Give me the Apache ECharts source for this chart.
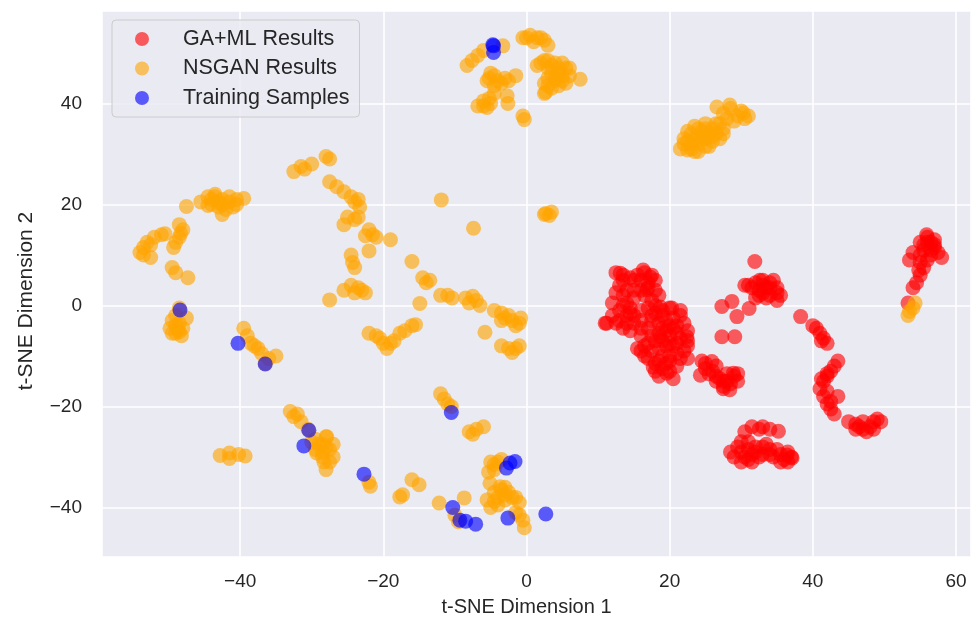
<!DOCTYPE html>
<html>
<head>
<meta charset="utf-8">
<script src="https://cdn.jsdelivr.net/npm/echarts@6/dist/echarts.min.js"></script>
<style>
  html, body { margin: 0; padding: 0; background: #ffffff; }
  #chart { width: 971px; height: 623px; }
</style>
</head>
<body>
<div id="chart"></div>
<script>
// t-SNE embedding of the three point sets
const seriesNames = ['GA+ML Results', 'NSGAN Results', 'Training Samples'];

const gaMlResults = [
  // large two-lobed cluster around (17, -3)
  [12.5,6.5],[13.5,6],[14.5,5.5],[15.5,6],[16.5,6.5],[17.5,6],[18,5],[13,4],[12.5,2.5],[13.5,2],
  [14,0.5],[15,1.5],[16,3],[17,3.5],[18,3],[18.5,2],[13,-1],[14,-2],[15,-2],[12.5,-3.5],
  [11,-3.5],[13.5,-4.5],[14.5,-5],[15,-3.5],[13.1,6.4],[16.3,7],[17.3,5.6],[16.8,3.1],[14.5,-1.5],[11.2,-3.5],
  [17,-0.5],[18,0],[19,-1],[20,-0.5],[17.5,-2],[18.5,-3.5],[19.5,-3],[20.5,-2.5],[21,-4],[22,-3.5],
  [22.5,-5],[21.5,-6.5],[20,-6],[18.5,-5.5],[17,-4.5],[16,-6],[16.5,-8],[17.5,-9],[18.5,-8.5],[19.5,-8],
  [20.5,-8],[21,-9.5],[22,-9],[22.5,-10.5],[20,-11],[18,-11.5],[17,-10.5],[19,-12.5],[20,-13],[21,-12],
  [16.5,-10],[15.5,-8.5],[19.5,-5],[20.5,-4.5],[18.7,-0.3],[20.3,-0.5],[22.4,-6.2],[18.7,-6.2],[17.7,-12.2],[19.6,-13.4],
  [18.5,-14],[20.5,-14.5],
  [13.5,5],[15,5],[16,5],[17,4.5],[14,3],[15,3],[16.5,2],[17.5,1],[13.5,0],[14.5,-0.5],
  [12,0.5],[12,-2],[13,-3],[14,-3.5],[16,-1],[16,-3],[16,-4.5],[17.5,-6],[18,-7],[19,-7],
  [20,-7.5],[21,-7.5],[19,-10],[20,-10],[21.5,-10.5],[18.5,-11],[18,-13],[19.5,-11.5],[21.5,-2],[21.5,-1],
  [19,-2],[18,-1.5],[17.5,-3],[20,-4],[19,-4.5],[21,-5.5],[22.5,-7],[22.5,-8],[17,-7.5],[16,-9],
  // chain around x=25..29, y=-11..-17
  [24.5,-11],[25,-12.5],[26,-13],[27,-14.5],[28,-15],[29,-14],[27.5,-16],[26.5,-12],[24.3,-13.8],[25.9,-11.1],
  [28.9,-13.4],[26.5,-15],[27.5,-16.5],[29.5,-13.5],[28.4,-16.7],
  [25.5,-13.5],[26.5,-14],[27.5,-15],[28.5,-15.5],[25,-11.5],[29.5,-15],[28,-13.5],
  // group around (33, 3)
  [31.9,8.7],[31,4],[32,4.5],[33,4],[34,4.5],[35,3.5],[35.5,2],[34,2],[33,2.5],[32.5,3],
  [30.5,4],[32,1.5],[35,1],[33.5,3.5],[32.6,5],[34.5,5],
  [31.5,3.5],[33,5],[34,3.5],[35,2.5],[33.5,1.5],[32.5,2],
  [27.3,-0.2],[28.7,0.8],[31.1,-0.6],[29.4,-2.2],[27.3,-6.2],[29.1,-6.2],[38.3,-2.2],
  [40.5,-4.5],[41,-5.5],[41.5,-6.5],[42,-7.5],[40,-4],[41.2,-7],
  [43.5,-11],[43,-12],[42.5,-13],[42,-14],
  // far right column
  [55,12.5],[56,13.5],[57,13],[55.5,11],[56.5,11],[57.5,10.5],[58,9.5],[54,10.5],[53.5,9],[56,9],
  [55.5,7.5],[55,6],[54.5,4.5],[54,3.5],[57,12],[55,10],[56.5,12.5],[55.9,14],[53.3,0.5],
  [55.5,12],[56.5,10],[55,8.5],[54.8,7],[56,12.5],[57,11.5],
  // arc down to the right
  [42,-13.5],[41.5,-15],[41,-16.5],[41.5,-18],[42,-19.5],[42.5,-20.5],[43,-21.5],[43.5,-18],
  [41.2,-14.5],[42,-17],[42.5,-19],
  [45,-23],[46,-23.5],[47,-24.5],[48,-24],[48.5,-23],[49,-22.5],[49.5,-23],[47.5,-25],[46.5,-24],
  [46,-24.5],[47,-23],[48.5,-24.5],
  // bottom group
  [30.5,-25],[31.5,-24],[32.5,-24.5],[35.2,-24.9],[29.5,-28],[30,-29],[30.5,-30],[31,-28.5],[32,-29],[33,-28],
  [34,-28.5],[35,-28.5],[35.5,-29.5],[36,-30.5],[37,-30],[36.5,-29],[29,-30],[31.5,-31],[33.5,-27.5],[28.5,-29],
  [31.5,-29.5],[36.4,-29.6],[37.1,-30.2],
  [30,-27],[31,-27],[32,-28],[32.5,-30],[33,-29.5],[34,-29.5],[34.5,-30],[35.5,-31],[36.5,-31],[30,-31],
  [31,-30.5],[33,-24],[34,-24.5]
];

const nsganResults = [
  // top cluster
  [-0.5,53],[0.5,53.5],[1.5,53],[2.5,52.5],[3,51.5],[1,52.2],[0,53],[2,53],[-3.3,51.4],
  [-8.3,47.5],[-7.6,48.5],[-6.8,49.5],[-6,50.5],
  [-5.5,44.5],[-5,46],[-4.5,43.5],[-3.5,44],[-2.5,44.5],[-1.5,45.5],[-5.2,45],[-4,44.5],[-3,45],[-4.5,45.5],
  [-6.8,39.5],[-6,40.5],[-5.2,41],[-4.5,42],[-5.5,39.2],[-6,39.5],[-5,40],[-2.7,41.5],[-2.6,40],[-0.5,37.5],[-0.3,36.8],
  [1.5,47.5],[2.5,48.5],[3,47],[4,48],[5,48],[5.5,47],[3.5,46],[4.5,46],[5,45.5],
  [4,44.5],[5.5,44],[6,45.5],[3.5,43],[2.5,42],[7.5,44.8],[2.7,42.2],
  [2,48],[3,48.5],[4.5,47],[3.5,47.5],[4,45],[5,44.5],[3,45],[2.5,44],[3,43.5],[4.5,43.5],[6,47],
  // upper right cluster
  [21.5,31],[22.5,30.8],[22,33],[23,34],[24,32],[24.5,34.5],[25,33],[26,35],[25.5,31.5],[27,33],
  [27.5,35],[28,37],[28.5,39],[29.5,37.5],[30.5,37],[31,37.5],[30,38.5],[22.5,34.5],[23.5,35.5],[26.5,34],
  [23,32],[24,30.5],[25,36],[27,36],[26,32.5],[29,36.5],[26.6,39.3],[28.4,39.7],[30.3,38.1],[27.5,38],
  [22,32],[23,31],[23.5,33],[24.5,33],[25.5,34],[26,33.5],[24,35],[25,35],[26.5,36],[24,33.5],
  [22.5,32.5],[23.5,30.5],[25,31.5],[27.5,34],
  // left side
  [-45.5,20.5],[-44.5,21.5],[-43.5,21.5],[-42.5,21],[-41.5,20.5],[-40.5,21],[-43,19.5],[-42,19],[-44,20],[-41,19.5],
  [-39.5,21.2],[-42.5,18],[-47.5,19.6],[-43.5,22],[-44.5,19.8],
  [-44,21],[-42.5,20],[-41.5,21.5],[-43,20.5],[-40.5,20],
  [-54,10.5],[-53.5,11.5],[-53,12.5],[-52,13.5],[-51,14],[-50.5,14.2],[-53.5,10],[-52.5,9.5],[-52.5,12],
  [-48.5,16],[-48,15],[-48.5,13.5],[-49,12.5],[-49.3,11.5],[-48.3,14.3],
  [-49.5,7.5],[-49,6.5],[-47.3,5.5],
  [-48.5,-0.5],[-49.5,-3],[-48.5,-3.5],[-49.8,-4.5],[-48,-4.5],[-49,-5.5],[-48.2,-6],[-47.5,-2.5],[-49,-2],[-48.7,-4.8],
  [-49,-4],[-48.5,-5.2],[-49.5,-5.5],
  [-39.5,-4.5],[-39,-6],[-38.5,-7.5],[-37.5,-8.5],[-37,-9.5],[-36,-10.5],[-35,-10],[-36.5,-11.5],[-38,-8],
  // arc in the upper middle
  [-32.5,26.5],[-31.5,27.5],[-31,27],[-30,28],[-28,29.5],[-27.5,29],[-27.5,24.5],[-26.5,23.5],[-25.5,22.5],[-24.5,21.5],
  [-23.5,21],[-24,20.5],[-23.3,19.5],[-25,17.5],[-24,17],[-25.5,16],[-23.5,17.5],
  [-22,15],[-21.5,14],[-21,13.5],[-22.5,13.8],[-19,13],[-22,10.8],
  [-24.5,10],[-24.3,8.5],[-24,7.5],
  [-25.5,3],[-24.5,4],[-23.5,3.5],[-23,3],[-24,2.5],[-22.5,2.5],[-27.5,1.1],
  // centre
  [-11.9,20.9],[-7.4,15.3],[2.7,18.2],[3.5,18.5],[3.2,17.8],[2.5,18],
  [-16,8.7],[-14.5,5.5],[-14,4.5],[-13.5,5],[-14.9,0.4],
  [-12,2],[-11,2],[-10.4,1.5],[-8.5,1.5],[-7.5,1.8],[-7,1],[-6.5,0],[-8,0.5],
  [-4.5,-1],[-3.5,-1.5],[-3,-2.5],[-2,-3],[-1,-3.5],[-0.8,-2.5],[-1.5,-4],[-3.5,-3],[-2.5,-2],
  [-5.8,-5.3],[-3.5,-8],[-2.5,-8.5],[-1.5,-8.5],[-1,-8],[-2,-9.3],
  [-22,-5.5],[-21,-6],[-20,-7.5],[-19.5,-8.5],[-19,-7.5],[-18.5,-7],[-17.7,-5.5],[-17,-5],[-16,-4],[-15.5,-3.8],[-20.5,-6.5],
  // lower left
  [-42.8,-29.7],[-41.5,-29.2],[-40.2,-29.5],[-39.3,-29.8],[-41.5,-30.3],
  [-33,-21],[-32.5,-22],[-31.5,-23],[-30.5,-24.5],[-29.5,-26.5],[-28.5,-27.5],[-28,-26],[-27.5,-28.5],[-27,-30],[-27.5,-31],
  [-28.5,-30],[-29.5,-28.5],[-28,-32.5],[-27,-27.5],[-30,-27],[-32,-21.5],[-27.9,-26],[-29.3,-29.2],
  [-29,-27.5],[-28.5,-29],[-28,-28],[-28.3,-31],
  [-22,-35],[-21.8,-35.8],
  [-17.7,-37.9],[-16,-34.5],[-15,-35.5],[-12.2,-39.1],[-8.7,-38.1],[-10,-41.5],[-9.5,-42.8],[-17.3,-37.5],
  // lower middle
  [-12,-17.5],[-11.5,-18.5],[-11,-19.5],[-10.5,-20],
  [-8,-25],[-7,-24.5],[-6,-24],[-7.5,-25.5],
  [-5,-31],[-4,-31],[-3.5,-30.5],[-4.5,-32.5],[-5.3,-33],[-4.5,-31.5],
  [-5.1,-35.2],[-3.7,-35.9],[-5.5,-38.5],[-4.5,-37],[-3.5,-36.5],[-2.5,-37],[-1.5,-38],[-1,-39],[-4,-39.5],[-5,-40],[-3,-36],
  [-4,-38],[-3,-38.5],[-2,-38],[-4.5,-38.8],[-3,-37.5],
  [-1,-41.5],[-0.5,-42.5],[-0.3,-44],[-1.5,-41],
  // next to the right column
  [53.3,-2],[54,-0.5],[54.3,0.5],[53.5,-1.2]
];

const trainingSamples = [
  [-4.7,51.6],[-4.6,51.4],[-4.6,50.1],[-48.4,-0.9],[-40.3,-7.5],[-36.5,-11.6],
  [-30.4,-24.7],[-31.1,-27.8],[-22.7,-33.4],[-10.5,-21.2],
  [-1.6,-30.9],[-2.3,-31.2],[-2.8,-32.2],[-2.6,-42.1],[2.7,-41.3],
  [-10.3,-40],[-9.3,-42.5],[-8.5,-42.7],[-7.1,-43.3]
];

const seriesColors = ['#ff0000', '#ffa500', '#0000ff'];
const xAxisTitle = 't-SNE Dimension 1';
const yAxisTitle = 't-SNE Dimension 2';

const textColor = '#262626';
const fontFamily = '"Liberation Sans", Arial, Helvetica, sans-serif';
const minusFmt = v => String(v).replace('-', '\u2212');

const chart = echarts.init(document.getElementById('chart'), null, { renderer: 'canvas' });

const pointSets = [gaMlResults, nsganResults, trainingSamples];

chart.setOption({
  animation: false,
  backgroundColor: '#ffffff',
  textStyle: { fontFamily: fontFamily, color: textColor },
  grid: {
    left: 102, top: 11, right: 0, bottom: 66,
    show: true, backgroundColor: '#eaeaf2', borderWidth: 0
  },
  xAxis: {
    type: 'value',
    min: -59.3, max: 62.1, splitNumber: 6,
    name: xAxisTitle, nameLocation: 'middle', nameGap: 40,
    nameTextStyle: { fontSize: 20, color: textColor, fontFamily: fontFamily, padding: [0, 20, 0, 0] },
    axisLine: { show: false }, axisTick: { show: false },
    axisLabel: { showMinLabel: false, showMaxLabel: false, fontSize: 19, color: textColor, margin: 15, formatter: minusFmt, fontFamily: fontFamily },
    splitLine: { show: true, lineStyle: { color: '#ffffff', width: 1.6 } }
  },
  yAxis: {
    type: 'value',
    min: -49.8, max: 58.3, splitNumber: 5,
    name: yAxisTitle, nameLocation: 'middle', nameGap: 65, nameRotate: 90,
    nameTextStyle: { fontSize: 21, color: textColor, fontFamily: fontFamily, padding: [0, 34, 0, 0] },
    axisLine: { show: false }, axisTick: { show: false },
    axisLabel: { showMinLabel: false, showMaxLabel: false, fontSize: 19, color: textColor, margin: 20, formatter: minusFmt, fontFamily: fontFamily },
    splitLine: { show: true, lineStyle: { color: '#ffffff', width: 1.6 } }
  },
  legend: {
    orient: 'vertical', left: 112, top: 20,
    padding: [7, 10, 7, 23],
    itemWidth: 14, itemHeight: 14, itemGap: 5.5,
    icon: 'circle',
    backgroundColor: 'rgba(234,234,242,0.8)',
    borderColor: '#cccccc', borderWidth: 1, borderRadius: 4,
    textStyle: { fontSize: 21.5, lineHeight: 24, color: textColor, padding: [0, 0, 0, 29], fontFamily: fontFamily },
    data: seriesNames
  },
  series: seriesNames.map((name, i) => ({
    name: name,
    type: 'scatter',
    data: pointSets[i],
    symbol: 'circle',
    symbolSize: 15,
    itemStyle: { color: seriesColors[i], opacity: 0.62 },
    emphasis: { disabled: true },
    z: 2 + i
  }))
});
</script>
</body>
</html>
